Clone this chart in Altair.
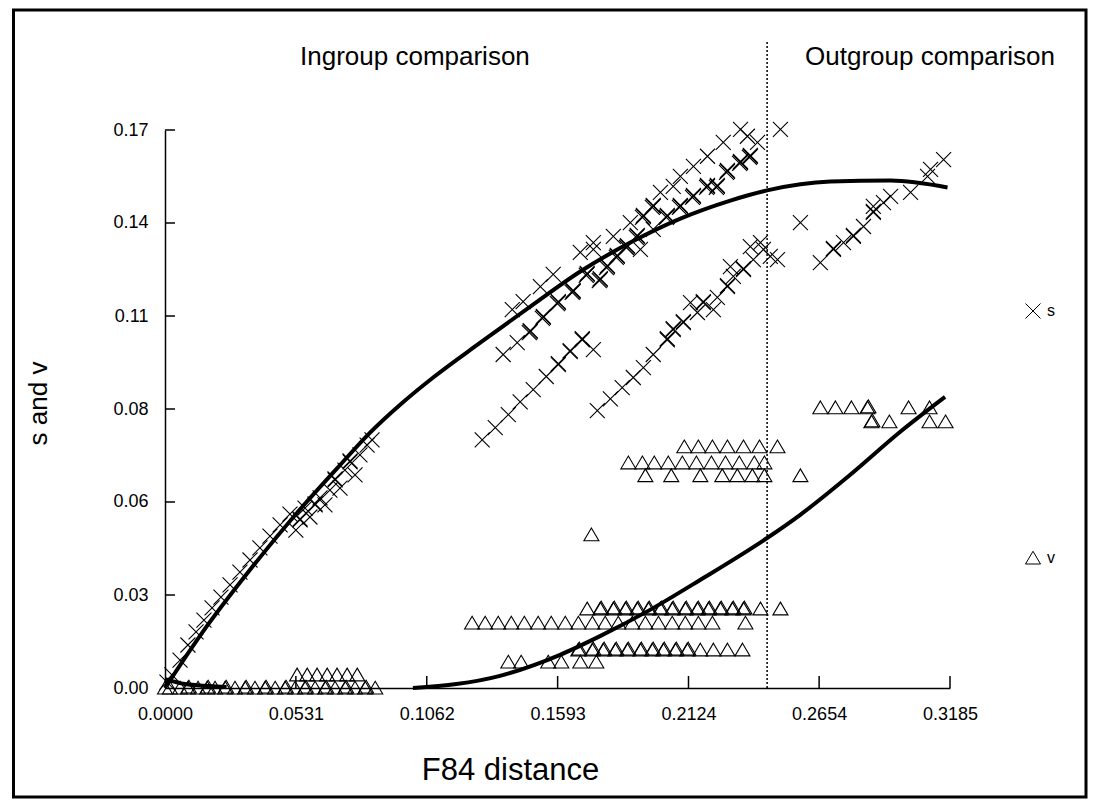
import altair as alt
import pandas as pd

# ---------------- axis ticks ----------------
x_tick_values = [0.0, 0.0531, 0.1062, 0.1593, 0.2124, 0.2654, 0.3185]
y_tick_values = [0.0, 0.02833, 0.05667, 0.085, 0.11333, 0.14167, 0.17]
y_tick_labels = ["0.00", "0.03", "0.06", "0.08", "0.11", "0.14", "0.17"]
split_x = 0.2443  # ingroup / outgroup boundary

# ---------------- s points (x marks) ----------------
s_x = [0.0008, 0.0028, 0.0061, 0.0093, 0.0126, 0.0158, 0.0191, 0.0227, 0.0264, 0.0304,
       0.0345, 0.0385, 0.0426, 0.0467, 0.0507, 0.0531, 0.0548, 0.0568, 0.0588, 0.0609,
       0.0629, 0.0649, 0.0669, 0.0690, 0.0710, 0.0730, 0.0751, 0.0771, 0.0791, 0.0820, 0.0840,
       # ingroup lower diagonal
       0.1287, 0.1340, 0.1393, 0.1441, 0.1494, 0.1547, 0.1596, 0.1644, 0.1693,
       # ingroup main band
       0.1372, 0.1429, 0.1482, 0.1535, 0.1596, 0.1656, 0.1409, 0.1453, 0.1523, 0.1575,
       0.1685, 0.1738, 0.1713, 0.1766, 0.1795, 0.1835, 0.1876, 0.1916, 0.1888, 0.1941,
       0.1981, 0.2010, 0.2062, 0.2091, 0.2144, 0.2201, 0.2265, 0.2335, 0.2363, 0.2404,
       0.2241, 0.2282, 0.2335, 0.2375, 0.2038, 0.2091, 0.2144, 0.2201, 0.1981, 0.1929,
       0.1819, 0.1738, 0.2497,
       # ingroup right band
       0.1754, 0.1807, 0.1855, 0.1900, 0.1941, 0.1981, 0.2038, 0.2062, 0.2103, 0.2160,
       0.2184, 0.2241, 0.2282, 0.2306, 0.2347, 0.2387, 0.2428, 0.2456, 0.2485, 0.2416,
       0.2294, 0.2225, 0.2132, 0.2375,
       # isolated
       0.1738,
       # outgroup
       0.2578, 0.2659, 0.2712, 0.2753, 0.2793, 0.2834, 0.2874, 0.2874, 0.2915, 0.2944,
       0.3025, 0.3094, 0.3106, 0.3159]
s_y = [0.0018, 0.0040, 0.0085, 0.0131, 0.0171, 0.0207, 0.0244, 0.0277, 0.0314, 0.0353,
       0.0390, 0.0427, 0.0463, 0.0497, 0.0530, 0.0481, 0.0512, 0.0548, 0.0521, 0.0558,
       0.0579, 0.0558, 0.0603, 0.0634, 0.0609, 0.0664, 0.0689, 0.0649, 0.0710, 0.0740, 0.0756,
       0.0756, 0.0793, 0.0833, 0.0872, 0.0909, 0.0949, 0.0985, 0.1025, 0.1061,
       0.1016, 0.1052, 0.1086, 0.1129, 0.1174, 0.1208, 0.1153, 0.1177, 0.1223, 0.1260,
       0.1327, 0.1357, 0.1260, 0.1244, 0.1284, 0.1315, 0.1345, 0.1376, 0.1418, 0.1437,
       0.1467, 0.1510, 0.1528, 0.1559, 0.1589, 0.1620, 0.1662, 0.1702, 0.1681, 0.1662,
       0.1528, 0.1574, 0.1601, 0.1620, 0.1437, 0.1467, 0.1498, 0.1528, 0.1397, 0.1336,
       0.1376, 0.1336, 0.1702,
       0.0845, 0.0881, 0.0915, 0.0946, 0.0976, 0.1016, 0.1061, 0.1092, 0.1113, 0.1144,
       0.1174, 0.1190, 0.1223, 0.1254, 0.1275, 0.1305, 0.1336, 0.1315, 0.1305, 0.1357,
       0.1284, 0.1153, 0.1174, 0.1345,
       0.1031,
       0.1418, 0.1296, 0.1336, 0.1357, 0.1376, 0.1406, 0.1449, 0.1467, 0.1479, 0.1498,
       0.1510, 0.1559, 0.1580, 0.1610]
# repeated (overlapping) s observations, which print bold
s_rep_x = [0.1482, 0.1535, 0.1596, 0.1656, 0.1713, 0.1766, 0.1795, 0.1835, 0.1876, 0.1916,
           0.1941, 0.1981, 0.2038, 0.2091, 0.2144, 0.2201, 0.2241, 0.2282, 0.2335, 0.2375,
           0.0548, 0.0609, 0.0690, 0.0751, 0.2712, 0.2793, 0.2874,
           0.1478, 0.1531, 0.1592, 0.1652, 0.1709, 0.1762, 0.1791, 0.1831, 0.1872, 0.1912,
           0.1937, 0.1977, 0.2034, 0.2087, 0.2140, 0.2197, 0.2237, 0.2278, 0.2331, 0.2371,
           0.1596, 0.1644, 0.1693, 0.2038, 0.2062, 0.2103, 0.2184, 0.2282, 0.2347]
s_rep_y = [0.1089, 0.1132, 0.1177, 0.1211, 0.1263, 0.1247, 0.1287, 0.1318, 0.1348, 0.1379,
           0.1440, 0.1470, 0.1440, 0.1470, 0.1501, 0.1531, 0.1531, 0.1577, 0.1604, 0.1623,
           0.0515, 0.0561, 0.0637, 0.0692, 0.1339, 0.1379, 0.1452,
           0.1083, 0.1126, 0.1171, 0.1205, 0.1257, 0.1241, 0.1281, 0.1312, 0.1342, 0.1373,
           0.1434, 0.1464, 0.1434, 0.1464, 0.1495, 0.1525, 0.1525, 0.1571, 0.1598, 0.1617,
           0.0988, 0.1028, 0.1064, 0.1064, 0.1095, 0.1116, 0.1177, 0.1226, 0.1278]

# ---------------- v points (triangles) ----------------
v_x = [0.0000, 0.0020, 0.0061, 0.0093, 0.0134, 0.0171, 0.0203, 0.0244, 0.0284, 0.0325,
       0.0365, 0.0406, 0.0447, 0.0487, 0.0528, 0.0568, 0.0609, 0.0650, 0.0690, 0.0731,
       0.0771, 0.0812, 0.0853,
       0.0536, 0.0577, 0.0617, 0.0658, 0.0698, 0.0739, 0.0780,
       0.1713, 0.1766, 0.1819, 0.1868, 0.1916, 0.1961, 0.2010, 0.2058, 0.2111, 0.2160,
       0.2205, 0.2253, 0.2302, 0.2347, 0.2416, 0.2497,
       0.1246, 0.1299, 0.1352, 0.1405, 0.1458, 0.1514, 0.1567, 0.1624, 0.1677, 0.1734,
       0.1786, 0.1839, 0.1896, 0.1949, 0.2002, 0.2058, 0.2111, 0.2164, 0.2221, 0.2355,
       0.1677, 0.1734, 0.1778, 0.1827, 0.1876, 0.1929, 0.1977, 0.2022, 0.2071, 0.2119,
       0.2172, 0.2225, 0.2282, 0.2343,
       0.1393, 0.1445, 0.1555, 0.1608, 0.1685, 0.1750,
       0.2107, 0.2164, 0.2221, 0.2282, 0.2347, 0.2412, 0.2485,
       0.1880, 0.1937, 0.1985, 0.2042, 0.2099, 0.2156, 0.2217, 0.2274, 0.2330, 0.2391, 0.2432,
       0.1949, 0.2054, 0.2172, 0.2261, 0.2322, 0.2383, 0.2432, 0.2578,
       0.1730,
       0.2659, 0.2720, 0.2785, 0.2850, 0.3017, 0.3102,
       0.2866, 0.2939, 0.3102, 0.3167]
v_y = [0.0] * 23 + [0.0040] * 7 + [0.0241] * 16 + [0.0198] * 20 + [0.0116] * 14 \
    + [0.0079] * 6 + [0.0735] * 7 + [0.0686] * 11 + [0.0647] * 8 + [0.0467] \
    + [0.0854] * 6 + [0.0811] * 4
# repeated (overlapping) v observations, which print bold
v_rep_x = [0.1770, 0.1823, 0.1872, 0.1920, 0.1965, 0.2014, 0.2062, 0.2115, 0.2164, 0.2209,
           0.2257, 0.2306, 0.2351,
           0.1681, 0.1738, 0.1782, 0.1831, 0.1880, 0.1933, 0.1981, 0.2026, 0.2075, 0.2123,
           0.2870, 0.2854,
           0.0097, 0.0175, 0.0248, 0.0329, 0.0410, 0.0491, 0.0572, 0.0654, 0.0735, 0.0816]
v_rep_y = [0.0244] * 13 + [0.0119] * 10 + [0.0814, 0.0857] + [0.0003] * 10

# ---------------- fitted curves ----------------
s_fit_x = [0.0, 0.0142, 0.0345, 0.0536, 0.0711, 0.0832, 0.0954, 0.1088, 0.1279, 0.1482,
           0.1685, 0.1888, 0.2091, 0.2294, 0.2443, 0.2700, 0.2944, 0.3175]
s_fit_y = [0.0, 0.0159, 0.0360, 0.0534, 0.0680, 0.0778, 0.0863, 0.0946, 0.1052, 0.1162,
           0.1269, 0.1357, 0.1430, 0.1485, 0.1516, 0.1543, 0.1546, 0.1525]
v_fit_x = [0.1006, 0.1359, 0.1603, 0.1765, 0.1968, 0.2171, 0.2443, 0.2576, 0.2779, 0.2982, 0.3165]
v_fit_y = [0.0, 0.0037, 0.0101, 0.0158, 0.0238, 0.0329, 0.0457, 0.0527, 0.0649, 0.0780, 0.0887]
v0_fit_x = [0.0, 0.0081, 0.0180, 0.0250]
v0_fit_y = [0.0027, 0.0012, 0.0006, 0.0003]

# ---------------- tables ----------------
pts = pd.concat([
    pd.DataFrame({"x": s_x, "y": s_y, "series": "s"}),
    pd.DataFrame({"x": s_rep_x, "y": s_rep_y, "series": "s"}),
    pd.DataFrame({"x": v_x, "y": v_y, "series": "v"}),
    pd.DataFrame({"x": v_rep_x, "y": v_rep_y, "series": "v"}),
], ignore_index=True)
lines = pd.concat([
    pd.DataFrame({"x": s_fit_x, "y": s_fit_y, "curve": "s"}),
    pd.DataFrame({"x": v_fit_x, "y": v_fit_y, "curve": "v"}),
    pd.DataFrame({"x": v0_fit_x, "y": v0_fit_y, "curve": "v0"}),
], ignore_index=True)

W, H = 785, 558
FONT = "Liberation Sans"

label_expr = "'" + y_tick_labels[-1] + "'"
for v, lab in reversed(list(zip(y_tick_values[:-1], y_tick_labels[:-1]))):
    label_expr = f"abs(datum.value - {v}) < 0.001 ? '{lab}' : ({label_expr})"

xs = alt.Scale(domain=[0, 0.3185], nice=False, zero=False)
ys = alt.Scale(domain=[0, 0.17], nice=False, zero=False)
xaxis = alt.Axis(values=x_tick_values, format=".4f", ticks=False, grid=False,
                 domainColor="black", domainWidth=1.5, labelFont=FONT, labelFontSize=18,
                 labelColor="black", labelPadding=17, labelFlush=False, labelOverlap=False,
                 title="F84 distance", titleFont=FONT, titleFontSize=31,
                 titleFontWeight="normal", titleColor="black", titleX=345, titleY=82,
                 titleAlign="center", titleBaseline="middle")
yaxis = alt.Axis(values=y_tick_values, labelExpr=label_expr, ticks=False, grid=False,
                 domainColor="black", domainWidth=1.5, labelFont=FONT, labelFontSize=18,
                 labelColor="black", labelPadding=17, labelFlush=False, labelOverlap=False,
                 title="s and v", titleFont=FONT, titleFontSize=26,
                 titleFontWeight="normal", titleColor="black", titleX=-127, titleY=273,
                 titleAngle=-90, titleAlign="center", titleBaseline="middle")
X = alt.X("x:Q", scale=xs, axis=xaxis)
Y = alt.Y("y:Q", scale=ys, axis=yaxis)

cross_path = "M-1,-1L1,1M-1,1L1,-1"
tri_path = "M0,-0.9L1,0.8L-1,0.8Z"

frame = alt.Chart(pd.DataFrame({"k": [0]})).mark_rect(
    fillOpacity=0, stroke="black", strokeWidth=3, clip=False
).encode(x=alt.value(-151.5), x2=alt.value(921), y=alt.value(-120), y2=alt.value(667))

divider = alt.Chart(pd.DataFrame({"x": [split_x]})).mark_rule(
    color="black", strokeWidth=1.5, strokeDash=[2, 2]
).encode(x=X, y=alt.value(-88), y2=alt.value(H))

curves = alt.Chart(lines).mark_line(
    color="black", strokeWidth=4, interpolate="monotone", clip=False
).encode(x=X, y=Y, detail="curve:N", order="x:Q")

points = alt.Chart(pts).mark_point(
    filled=False, color="black", strokeWidth=1.1, size=225, opacity=1, clip=False
).encode(
    x=X, y=Y,
    shape=alt.Shape("series:N",
                    scale=alt.Scale(domain=["s", "v"], range=[cross_path, tri_path]),
                    legend=alt.Legend(orient="none", legendX=860, legendY=173, title=None,
                                      rowPadding=228, symbolSize=225, symbolStrokeWidth=1,
                                      symbolStrokeColor="black", labelFont=FONT,
                                      labelFontSize=16, labelColor="black", labelOffset=6,
                                      padding=0)),
)

xticks = alt.Chart(pd.DataFrame({"x": x_tick_values[1:]})).mark_rule(
    color="black", strokeWidth=1.5
).encode(x=X, y=alt.value(H), y2=alt.value(H - 12))
yticks = alt.Chart(pd.DataFrame({"y": y_tick_values[1:]})).mark_rule(
    color="black", strokeWidth=1.5
).encode(y=Y, x=alt.value(0), x2=alt.value(10))

headings = alt.Chart(pd.DataFrame({
    "label": ["Ingroup comparison", "Outgroup comparison"],
    "x": [0.1014, 0.3104],
})).mark_text(font=FONT, fontSize=26, color="black", baseline="middle", align="center").encode(
    x=X, y=alt.value(-73), text="label:N")

chart = alt.layer(frame, divider, curves, points, xticks, yticks, headings).properties(
    width=W, height=H,
    autosize=alt.AutoSizeParams(type="none"),
    padding={"left": 157, "top": 122, "right": 140, "bottom": 111},
    background="white",
).configure_view(stroke=None)

chart.save("out.html", embed_options={"renderer": "svg", "actions": False})
